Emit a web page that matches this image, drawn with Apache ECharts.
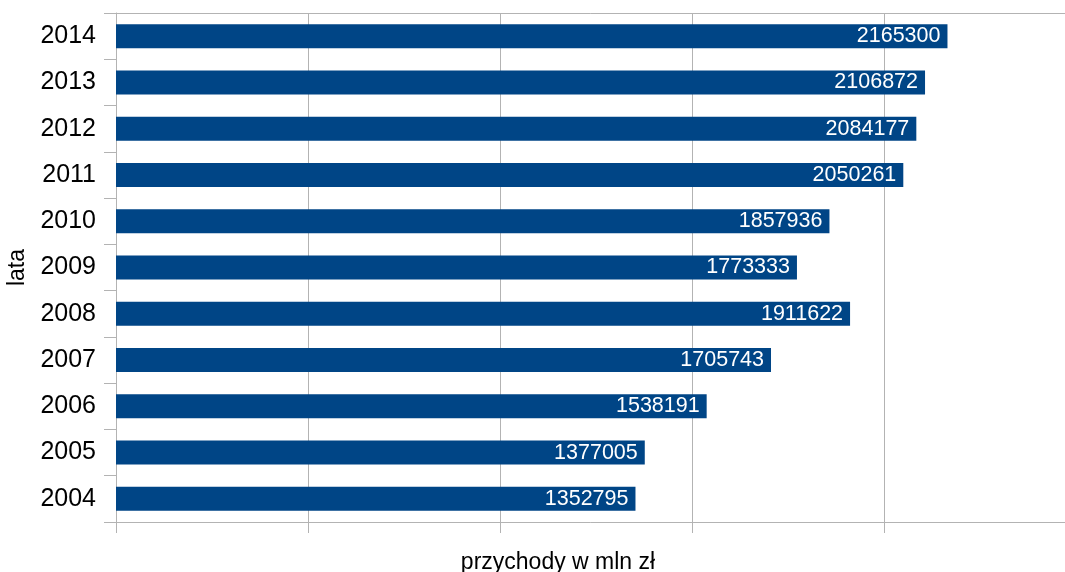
<!DOCTYPE html>
<html>
<head>
<meta charset="utf-8">
<script src="https://cdn.jsdelivr.net/npm/echarts@6/dist/echarts.min.js"></script>
<style>html,body{margin:0;padding:0;background:#fff}#c{width:1065px;height:572px}</style>
</head>
<body>
<div id="c"></div>
<script>
const years = ['2004','2005','2006','2007','2008','2009','2010','2011','2012','2013','2014'];
const revenue = [1352795, 1377005, 1538191, 1705743, 1911622, 1773333, 1857936, 2050261, 2084177, 2106872, 2165300];
const xAxisTitle = 'przychody w mln zł';
const yAxisTitle = 'lata';

const chart = echarts.init(document.getElementById('c'), null, {renderer: 'canvas'});
const font = "'Liberation Sans', Arial, sans-serif";
const grey = '#b3b3b3';
chart.setOption({
  animation: false,
  textStyle: {fontFamily: font},
  grid: {left: 116, width: 960, top: 13, height: 509, containLabel: false, outerBoundsMode: 'none'},
  xAxis: [{
    type: 'value', min: 0, max: 2500000, interval: 500000,
    axisLabel: {show: false},
    axisLine: {show: true, lineStyle: {color: grey, width: 1}},
    axisTick: {show: true, length: 11, lineStyle: {color: grey}},
    splitLine: {show: true, lineStyle: {color: grey, width: 1}},
    name: xAxisTitle, nameLocation: 'middle', nameGap: 29,
    nameTextStyle: {fontSize: 23, color: '#000', fontFamily: font, padding: [0, 76, 0, 0]}
  }, {
    type: 'value', position: 'top', min: 0, max: 2500000, interval: 500000,
    axisLabel: {show: false}, axisTick: {show: false}, splitLine: {show: false},
    axisLine: {show: true, lineStyle: {color: grey, width: 1}}
  }],
  yAxis: {
    type: 'category', data: years,
    axisLine: {show: true, lineStyle: {color: grey, width: 1}},
    axisTick: {show: true, length: 12, lineStyle: {color: grey}},
    axisLabel: {fontSize: 25, color: '#000', margin: 20, fontFamily: font},
    splitLine: {show: false},
    name: yAxisTitle, nameLocation: 'middle', nameGap: 86, nameRotate: 90,
    nameTextStyle: {fontSize: 23, color: '#000', fontFamily: font}
  },
  series: [{
    type: 'bar', data: revenue, barWidth: 24, xAxisIndex: 0,
    itemStyle: {color: '#004586'},
    label: {show: true, position: 'insideRight', distance: 7, color: '#fff', fontSize: 21.5, fontFamily: font}
  }]
});
</script>
</body>
</html>
